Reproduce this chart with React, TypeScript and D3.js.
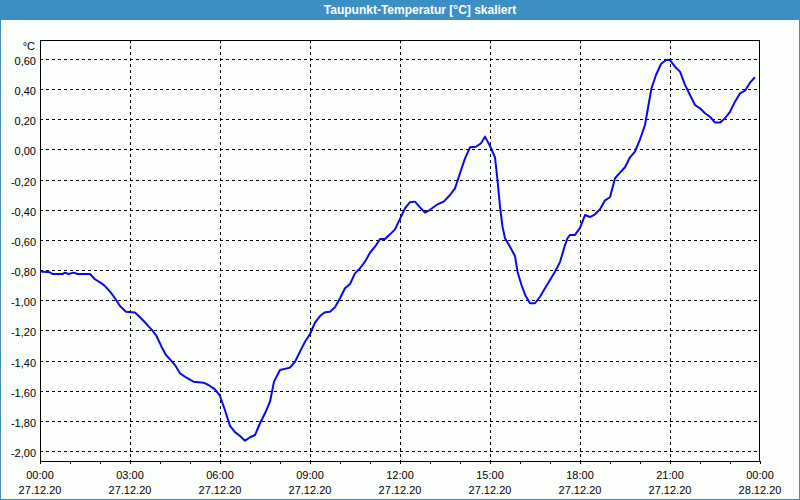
import React from "react";
import * as d3 from "d3";

const title = "Taupunkt-Temperatur [°C] skaliert";
const unitLabel = "°C";

// minutes since 27.12.20 00:00
const minutes = [
  0, 20, 25, 45, 50, 57, 67, 75, 100, 110, 123, 130, 140, 150, 160, 172, 190, 200, 213, 225,
  233, 243, 252, 260, 270, 280, 293, 307, 327, 337, 350, 360, 370, 380, 390, 400, 410, 420, 430, 440,
  450, 460, 468, 480, 500, 510, 520, 530, 540, 550, 560, 570, 580, 590, 600, 610, 620, 630, 640, 650,
  660, 670, 680, 690, 700, 710, 720, 730, 740, 750, 760, 770, 780, 793, 808, 820, 830, 840, 850, 860,
  872, 882, 890, 900, 910, 915, 920, 925, 930, 940, 950, 955, 963, 971, 980, 990, 1000, 1010, 1020, 1030,
  1040, 1050, 1055, 1060, 1070, 1080, 1090, 1100, 1110, 1120, 1130, 1140, 1150, 1160, 1170, 1180, 1190, 1200, 1210, 1217,
  1223, 1232, 1242, 1252, 1260, 1270, 1280, 1290, 1300, 1310, 1320, 1330, 1340, 1350, 1360, 1370, 1380, 1390, 1400, 1410,
  1420, 1430,
];

const values = [
  -0.81, -0.815, -0.826, -0.826, -0.817, -0.826, -0.817, -0.826, -0.826, -0.861, -0.888, -0.906, -0.943, -0.987, -1.038, -1.076, -1.082, -1.113, -1.158, -1.202,
  -1.237, -1.308, -1.363, -1.392, -1.43, -1.485, -1.514, -1.54, -1.547, -1.562, -1.591, -1.635, -1.73, -1.834, -1.875, -1.9, -1.932, -1.909, -1.894, -1.816,
  -1.75, -1.673, -1.54, -1.463, -1.447, -1.408, -1.341, -1.275, -1.224, -1.149, -1.105, -1.08, -1.076, -1.047, -0.987, -0.921, -0.892, -0.822, -0.788, -0.744,
  -0.685, -0.645, -0.594, -0.594, -0.563, -0.53, -0.46, -0.39, -0.35, -0.346, -0.384, -0.419, -0.4, -0.368, -0.344, -0.302, -0.258, -0.158, -0.059, 0.014,
  0.018, 0.041, 0.085, 0.023, -0.052, -0.203, -0.38, -0.512, -0.589, -0.645, -0.707, -0.811, -0.899, -0.97, -1.02, -1.02, -0.977, -0.921, -0.866, -0.811,
  -0.747, -0.634, -0.589, -0.567, -0.567, -0.52, -0.435, -0.448, -0.43, -0.397, -0.337, -0.317, -0.191, -0.154, -0.118, -0.052, -0.014, 0.067, 0.162, 0.295,
  0.406, 0.494, 0.567, 0.593, 0.593, 0.549, 0.516, 0.428, 0.361, 0.295, 0.273, 0.24, 0.217, 0.178, 0.178, 0.207, 0.25, 0.317, 0.372, 0.39,
  0.443, 0.479,
];

const yTicks = [-2.0, -1.8, -1.6, -1.4, -1.2, -1.0, -0.8, -0.6, -0.4, -0.2, 0.0, 0.2, 0.4, 0.6];
const xMajorTicks = [0, 180, 360, 540, 720, 900, 1080, 1260, 1440];
const xTimeLabels = ["00:00", "03:00", "06:00", "09:00", "12:00", "15:00", "18:00", "21:00", "00:00"];
const xDateLabels = ["27.12.20", "27.12.20", "27.12.20", "27.12.20", "27.12.20", "27.12.20", "27.12.20", "27.12.20", "28.12.20"];
const xMinorTicks = d3.range(0, 1441, 60);

export default function App() {
  const W = 800;
  const H = 500;
  const left = 40;
  const right = 760;
  const top = 40;
  const bottom = 461;

  const x = d3.scaleLinear().domain([0, 1440]).range([left, right]);
  const y = d3.scaleLinear().domain([-2.0663, 0.726]).range([bottom, top]);

  const data = minutes.map((m, i) => [m, values[i]] as [number, number]);
  const line = d3
    .line<[number, number]>()
    .x((d) => x(d[0]))
    .y((d) => y(d[1]));

  const fmt = (v: number) => v.toFixed(2).replace(".", ",").replace("-0,00", "0,00");
  const font = "'Liberation Sans', Arial, sans-serif";

  return (
    <svg
      width={W}
      height={H}
      style={{ position: "fixed", left: 0, top: 0, display: "block" }}
      fontFamily={font}
    >
      <rect x={0} y={0} width={W} height={H} fill="#fcfefc" />
      <rect x={0} y={0} width={W} height={20} fill="#3d8fc3" />
      <rect x={0.5} y={0} width={W - 1} height={H - 0.5} fill="none" stroke="#3d8fc3" strokeWidth={1} />
      <text x={420} y={14} fill="#ffffff" fontWeight="bold" fontSize={12} textAnchor="middle">
        {title}
      </text>

      {/* horizontal grid */}
      {yTicks.map((t) => (
        <line
          key={"hy" + t}
          x1={left}
          x2={right}
          y1={Math.round(y(t)) + 0.5}
          y2={Math.round(y(t)) + 0.5}
          stroke="#000"
          strokeWidth={1}
          strokeDasharray="3,3"
        />
      ))}
      {/* vertical grid */}
      {xMajorTicks.slice(1, -1).map((t) => (
        <line
          key={"vx" + t}
          x1={Math.round(x(t)) + 0.5}
          x2={Math.round(x(t)) + 0.5}
          y1={top}
          y2={bottom + 3}
          stroke="#000"
          strokeWidth={1}
          strokeDasharray="3,3"
        />
      ))}
      {/* minor ticks */}
      {xMinorTicks.map((t) => (
        <line
          key={"mt" + t}
          x1={Math.round(x(t)) + 0.5}
          x2={Math.round(x(t)) + 0.5}
          y1={bottom}
          y2={bottom + 3}
          stroke="#000"
          strokeWidth={1}
        />
      ))}

      {/* plot frame */}
      <rect
        x={left + 0.5}
        y={top + 0.5}
        width={right - left - 1}
        height={bottom - top}
        fill="none"
        stroke="#000"
        strokeWidth={1}
      />

      {/* y labels */}
      {yTicks.map((t) => (
        <text key={"yl" + t} x={36} y={Math.round(y(t)) + 6} fontSize={11} textAnchor="end" fill="#000">
          {fmt(t)}
        </text>
      ))}
      <text x={35} y={50} fontSize={11} textAnchor="end" fill="#000">
        {unitLabel}
      </text>

      {/* x labels */}
      {xMajorTicks.map((t, i) => (
        <g key={"xl" + i}>
          <text x={x(t)} y={479} fontSize={11} textAnchor="middle" fill="#000">
            {xTimeLabels[i]}
          </text>
          <text x={x(t)} y={494} fontSize={11} textAnchor="middle" fill="#000">
            {xDateLabels[i]}
          </text>
        </g>
      ))}

      <path d={line(data) || ""} fill="none" stroke="#0a0ae8" strokeWidth={2} strokeLinejoin="round" />
    </svg>
  );
}
